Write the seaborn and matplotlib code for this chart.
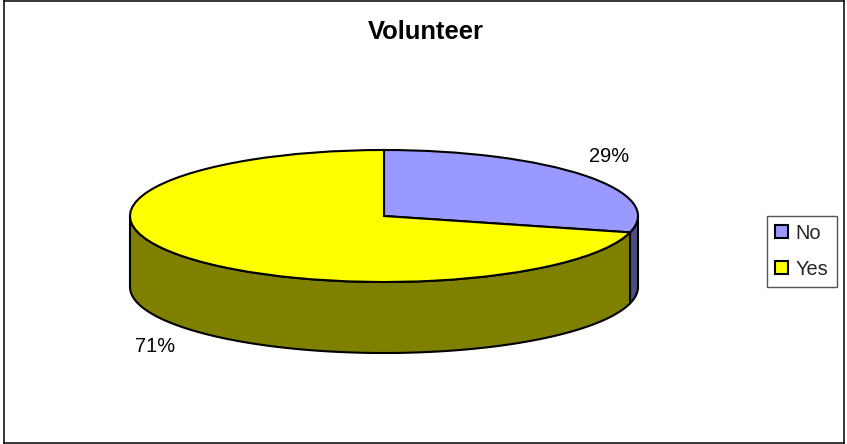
import matplotlib.pyplot as plt
import numpy as np
import seaborn as sns

# Data
categories = ['No', 'Yes']
shares = [29, 71]
pct_labels = ['29%', '71%']
chart_title = 'Volunteer'

top_colors = ['#9999ff', '#ffff00']
side_colors = ['#4d4d80', '#808000']

sns.set_theme(style='white')
plt.rcParams['font.family'] = ['Liberation Sans', 'DejaVu Sans']

W, H = 847, 444
fig = plt.figure(figsize=(W / 100, H / 100), dpi=100)

# frame of the chart area, in pixels
left, right, top, bottom = 4, 844, 1, 443
ax = fig.add_axes([left / W, 1 - bottom / H, (right - left) / W, (bottom - top) / H])

# pie ellipse, in pixels
cx, cy, rx, ry, depth_px = 384, 216, 254, 66, 71
depth = depth_px / ry

wedges, _ = ax.pie(shares, colors=top_colors, startangle=90, counterclock=False, radius=1,
                   wedgeprops=dict(edgecolor='black', linewidth=1.5, zorder=5))

# side wall, front half of the ellipse only
start = 90.0
mids = []
for share, col in zip(shares, side_colors):
    end = start - 360 * share / sum(shares)
    mids.append(np.radians((start + end) / 2))
    lo, hi = max(end, -180), min(start, 0)
    if hi > lo:
        t = np.radians(np.linspace(lo, hi, 120))
        xs = np.cos(t)
        ys = np.sin(t)
        ax.fill(np.r_[xs, xs[::-1]], np.r_[ys, ys[::-1] - depth], facecolor=col,
                edgecolor='black', linewidth=1.5, zorder=3, joinstyle='round')
    start = end

ax.set_aspect('auto')
ax.set_xlim((left - cx) / rx, (right - cx) / rx)
ax.set_ylim((cy - bottom) / ry, (cy - top) / ry)

# percent labels sit outside the slice middle
for mid, lab in zip(mids, pct_labels):
    lx = 1.13 * np.cos(mid) - 0.008
    ly = 1.47 * np.sin(mid)
    if ly < 0:
        ly -= depth
    ax.text(lx, ly, lab, fontsize=14.4, color='black', ha='center', va='center', zorder=6)

ax.set_frame_on(True)
for s in ax.spines.values():
    s.set_color('black')
    s.set_linewidth(1.1)

fig.text(425.5 / W, 1 - 32 / H, chart_title, fontsize=18.4, fontweight='bold', color='black',
         ha='center', va='center')

leg = ax.legend(wedges, categories, loc='center', bbox_to_anchor=(802 / W, 1 - 251.5 / H),
                bbox_transform=fig.transFigure, fontsize=14.4, frameon=True, fancybox=False,
                edgecolor='#555555', framealpha=1, handlelength=0.62, handleheight=0.62,
                handletextpad=0.4, labelspacing=0.85, borderpad=0.4, borderaxespad=0)
leg.get_frame().set_linewidth(1)

plt.savefig('out.png', dpi=100)
